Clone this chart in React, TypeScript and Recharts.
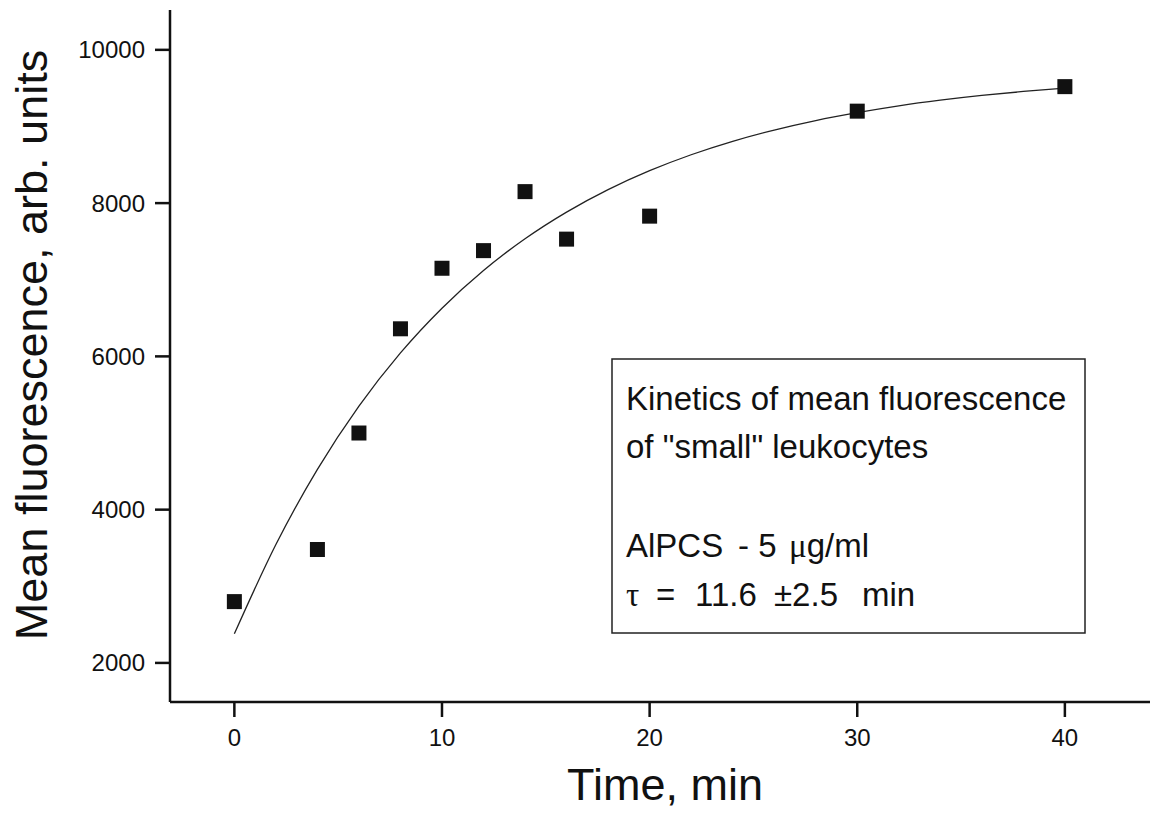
import React from "react";
import {
    ComposedChart,
    Line,
    Scatter,
    XAxis,
    YAxis,
    Label
} from "recharts";

// measured points
const timePoints = [0, 4, 6, 8, 10, 12, 14, 16, 20, 30, 40];
const fluorescence = [2800, 3480, 5000, 6360, 7150, 7380, 8150, 7530, 7830, 9200, 9520];

// fitted curve, every 2 min
const fitTime = [0, 2, 4, 6, 8, 10, 12, 14, 16, 18, 20, 22, 24, 26, 28, 30, 32, 34, 36, 38, 40];
const fitValue = [2380, 3545, 4525, 5350, 6045, 6629, 7121, 7535, 7883, 8176, 8423, 8631, 8806, 8953, 9077, 9180, 9269, 9343, 9405, 9457, 9501];

const xTicks = [0, 10, 20, 30, 40];
const yTicks = [2000, 4000, 6000, 8000, 10000];

const pointData = timePoints.map((t, i) => ({ t, mf: fluorescence[i] }));
const fitData = fitTime.map((t, i) => ({ t, fit: fitValue[i] }));

const FONT = '"Liberation Sans", Arial, Helvetica, sans-serif';
const SERIF = '"Liberation Serif", "Times New Roman", serif';
const INK = "#111";

const SquareDot = (props: any) => {
    const { cx, cy } = props;
    if (cx == null || cy == null) return null;
    return <rect x={cx - 7.5} y={cy - 7.5} width={15} height={15} fill={INK} />;
};

// y-axis title, drawn rotated a little above the plot centre like the original
const YTitle = () => (
    <text
        x={31}
        y={345}
        transform="rotate(-90, 31, 345)"
        textAnchor="middle"
        dominantBaseline="central"
        fill={INK}
        fontSize={45}
        fontFamily={FONT}
    >
        Mean fluorescence, arb. units
    </text>
);

export default function App() {
    return (
        <div style={{ position: "absolute", left: 0, top: 0, width: 1166, height: 819, background: "#fff" }}>
            <ComposedChart
                width={1166}
                height={819}
                margin={{ top: 10, right: 16, bottom: 0, left: 0 }}
            >
                <XAxis
                    dataKey="t"
                    type="number"
                    domain={[-3.1, 44.1]}
                    allowDataOverflow
                    ticks={xTicks}
                    height={117}
                    tickSize={15}
                    tickMargin={12}
                    stroke={INK}
                    strokeWidth={2.5}
                    tick={{ fill: INK, fontSize: 24, fontFamily: FONT }}
                >
                    <Label
                        value="Time, min"
                        position="insideBottom"
                        offset={19}
                        dx={5}
                        style={{ fill: INK, fontSize: 45, fontFamily: FONT }}
                    />
                </XAxis>
                <YAxis
                    type="number"
                    domain={[1490, 10520]}
                    allowDataOverflow
                    ticks={yTicks}
                    width={170}
                    tickSize={15}
                    tickMargin={10}
                    stroke={INK}
                    strokeWidth={2.5}
                    tick={{ fill: INK, fontSize: 24, fontFamily: FONT }}
                >
                    <Label content={YTitle} />
                </YAxis>
                <Line
                    data={fitData}
                    dataKey="fit"
                    type="monotone"
                    stroke="#222"
                    strokeWidth={1.3}
                    dot={false}
                    activeDot={false}
                    isAnimationActive={false}
                />
                <Scatter
                    data={pointData}
                    dataKey="mf"
                    shape={SquareDot}
                    isAnimationActive={false}
                />
            </ComposedChart>

            {/* annotation box */}
            <svg
                width={1166}
                height={819}
                style={{ position: "absolute", left: 0, top: 0, pointerEvents: "none" }}
            >
                <rect x={612} y={359} width={473} height={274} fill="#fff" stroke="#222" strokeWidth={1.5} />
                <g fill={INK} fontFamily={FONT} fontSize={33} style={{ whiteSpace: "pre" }}>
                    <text x={626} y={410}>Kinetics of mean fluorescence</text>
                    <text x={626} y={458}>of "small" leukocytes</text>
                    <text y={557}>
                        <tspan x={626}>AlPCS</tspan>
                        <tspan x={738}>- 5 </tspan>
                        <tspan x={789} fontFamily={SERIF}>μ</tspan>
                        <tspan>g/ml</tspan>
                    </text>
                    <text y={606}>
                        <tspan x={626} fontFamily={SERIF}>τ</tspan>
                        <tspan x={656}>=</tspan>
                        <tspan x={695}>11.6</tspan>
                        <tspan x={774}>±2.5</tspan>
                        <tspan x={862}>min</tspan>
                    </text>
                </g>
            </svg>
        </div>
    );
}
